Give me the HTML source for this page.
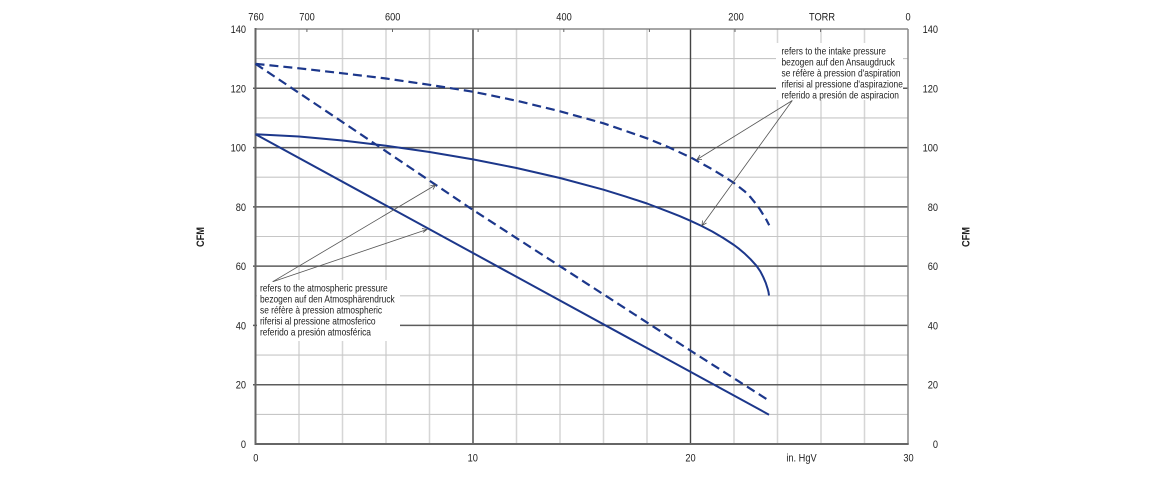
<!DOCTYPE html>
<html>
<head>
<meta charset="utf-8">
<style>
  html,body{margin:0;padding:0;background:#fff;}
  svg{display:block;}
  text{font-family:"Liberation Sans",Arial,sans-serif;fill:#222;}
</style>
</head>
<body>
<svg width="1160" height="480" viewBox="0 0 1160 480" xmlns="http://www.w3.org/2000/svg">
  <rect x="0" y="0" width="1160" height="480" fill="#fff"/>

  <!-- minor vertical gridlines -->
  <g stroke="#d6d6d6" stroke-width="1.5">
    <line x1="299" y1="29" x2="299" y2="444"/>
    <line x1="342.5" y1="29" x2="342.5" y2="444"/>
    <line x1="386" y1="29" x2="386" y2="444"/>
    <line x1="429.5" y1="29" x2="429.5" y2="444"/>
    <line x1="516.5" y1="29" x2="516.5" y2="444"/>
    <line x1="560" y1="29" x2="560" y2="444"/>
    <line x1="603.5" y1="29" x2="603.5" y2="444"/>
    <line x1="647" y1="29" x2="647" y2="444"/>
    <line x1="734" y1="29" x2="734" y2="444"/>
    <line x1="777.5" y1="29" x2="777.5" y2="444"/>
    <line x1="821" y1="29" x2="821" y2="444"/>
    <line x1="864.5" y1="29" x2="864.5" y2="444"/>
  </g>
  <!-- minor horizontal gridlines -->
  <g stroke="#c6c6c6" stroke-width="1.1">
    <line x1="255.5" y1="414.4" x2="908" y2="414.4"/>
    <line x1="255.5" y1="355.1" x2="908" y2="355.1"/>
    <line x1="255.5" y1="295.8" x2="908" y2="295.8"/>
    <line x1="255.5" y1="236.5" x2="908" y2="236.5"/>
    <line x1="255.5" y1="177.2" x2="908" y2="177.2"/>
    <line x1="255.5" y1="117.9" x2="908" y2="117.9"/>
    <line x1="255.5" y1="58.6" x2="908" y2="58.6"/>
  </g>
  <!-- major horizontal gridlines -->
  <g stroke="#5c5c5c" stroke-width="1.5">
    <line x1="253" y1="384.7" x2="908" y2="384.7"/>
    <line x1="253" y1="325.4" x2="908" y2="325.4"/>
    <line x1="253" y1="266.1" x2="908" y2="266.1"/>
    <line x1="253" y1="206.9" x2="908" y2="206.9"/>
    <line x1="253" y1="147.6" x2="908" y2="147.6"/>
    <line x1="253" y1="88.3" x2="908" y2="88.3"/>
  </g>
  <!-- major vertical gridlines -->
  <g stroke="#444" stroke-width="1.4">
    <line x1="473" y1="29" x2="473" y2="444"/>
    <line x1="690.5" y1="29" x2="690.5" y2="444"/>
  </g>

  <!-- annotation boxes -->
  <rect x="257" y="280" width="143" height="61" fill="#fff"/>
  <rect x="776" y="43" width="127" height="57" fill="#fff"/>

  <!-- borders -->
  <line x1="255.5" y1="29" x2="908" y2="29" stroke="#888" stroke-width="1.5"/>
  <line x1="908" y1="29" x2="908" y2="444" stroke="#888" stroke-width="1.5"/>
  <line x1="255.5" y1="28" x2="255.5" y2="445" stroke="#666" stroke-width="2"/>
  <line x1="254.5" y1="444" x2="908.7" y2="444" stroke="#666" stroke-width="2"/>

  <!-- top torr ticks -->
  <g stroke="#666" stroke-width="1">
    <line x1="306.9" y1="29" x2="306.9" y2="32"/>
    <line x1="392.5" y1="29" x2="392.5" y2="32"/>
    <line x1="478.1" y1="29" x2="478.1" y2="32"/>
    <line x1="563.8" y1="29" x2="563.8" y2="32"/>
    <line x1="649.4" y1="29" x2="649.4" y2="32"/>
    <line x1="735" y1="29" x2="735" y2="32"/>
    <line x1="820.6" y1="29" x2="820.6" y2="32"/>
  </g>

  <!-- curves -->
  <g fill="none" stroke="#1c378b" stroke-linejoin="round" stroke-linecap="butt">
    <polyline stroke-width="2" points="255.5,134.2 769,414.7"/>
    <polyline stroke-width="2.2" stroke-dasharray="9 5" points="255.5,63.8 366.7,138.3 470,208 690.3,350.5 768.5,400.3"/>
    <polyline stroke-width="2" points="255.5,134.2 299,136.5 342.5,140.5 386,145.7 429.5,152 473,159.4 516.5,168 560,178 603.5,189.7 625.3,196.4 647,203.5 668.75,211.8 679.6,216.1 690.5,220.8 701.4,225.9 712.25,231.5 723.1,237.9 734,245 739.4,249.1 744.9,253.8 750.5,259.2 756.5,265.8 760.3,271.3 763.3,277.2 765.8,283 767.5,288.3 768.5,292 769,295.5"/>
    <polyline stroke-width="2.2" stroke-dasharray="9 5" points="255.5,63.8 299,68.3 342.5,73.3 386,78.5 429.5,84.8 473,91.7 516.5,100.7 560,111.3 603.5,123.3 647,138.3 668.75,147.3 690.5,157.3 712.25,169.3 723.1,175.9 734,183 744.9,191.5 750.5,197.2 755.75,203.6 760,209.5 763.4,215 766.5,220 769.2,225.3"/>
  </g>

  <!-- leader lines -->
  <g stroke="#555" stroke-width="0.8" fill="none">
    <line x1="272.7" y1="281.7" x2="435.5" y2="185"/>
    <line x1="272.7" y1="281.7" x2="427" y2="229.5"/>
    <line x1="792.3" y1="100.5" x2="697" y2="159.5"/>
    <line x1="792.3" y1="100.5" x2="702" y2="225.5"/>
    <polyline points="430.5,185.5 435.5,185 433,189.5"/>
    <polyline points="422,228.5 427,229.5 423,232.5"/>
    <polyline points="700,155 697,159.5 702,159.5"/>
    <polyline points="702.5,220.5 702,225.5 706.5,223"/>
  </g>

  <!-- annotation text -->
  <g font-size="10">
    <text transform="translate(260 291.6) scale(0.84 1)">refers to the atmospheric pressure</text>
    <text transform="translate(260 302.6) scale(0.84 1)">bezogen auf den Atmosphärendruck</text>
    <text transform="translate(260 313.7) scale(0.84 1)">se réfère à pression atmospheric</text>
    <text transform="translate(260 324.6) scale(0.84 1)">riferisi al pressione atmosferico</text>
    <text transform="translate(260 335.7) scale(0.84 1)">referido a presión atmosférica</text>

    <text transform="translate(781.5 54.5) scale(0.84 1)">refers to the intake pressure</text>
    <text transform="translate(781.5 65.5) scale(0.84 1)">bezogen auf den Ansaugdruck</text>
    <text transform="translate(781.5 76.5) scale(0.84 1)">se réfère à pression d'aspiration</text>
    <text transform="translate(781.5 87.4) scale(0.84 1)">riferisi al pressione d'aspirazione</text>
    <text transform="translate(781.5 98.3) scale(0.84 1)">referido a presión de aspiracion</text>
  </g>

  <!-- left y labels -->
  <g font-size="11" text-anchor="end">
    <text transform="translate(246 33) scale(0.84 1)">140</text>
    <text transform="translate(246 92.3) scale(0.84 1)">120</text>
    <text transform="translate(246 151.6) scale(0.84 1)">100</text>
    <text transform="translate(246 210.9) scale(0.84 1)">80</text>
    <text transform="translate(246 270.1) scale(0.84 1)">60</text>
    <text transform="translate(246 329.4) scale(0.84 1)">40</text>
    <text transform="translate(246 388.7) scale(0.84 1)">20</text>
    <text transform="translate(246 448) scale(0.84 1)">0</text>
  </g>
  <!-- right y labels -->
  <g font-size="11" text-anchor="end">
    <text transform="translate(938 33) scale(0.84 1)">140</text>
    <text transform="translate(938 92.3) scale(0.84 1)">120</text>
    <text transform="translate(938 151.6) scale(0.84 1)">100</text>
    <text transform="translate(938 210.9) scale(0.84 1)">80</text>
    <text transform="translate(938 270.1) scale(0.84 1)">60</text>
    <text transform="translate(938 329.4) scale(0.84 1)">40</text>
    <text transform="translate(938 388.7) scale(0.84 1)">20</text>
    <text transform="translate(938 448) scale(0.84 1)">0</text>
  </g>
  <!-- top labels -->
  <g font-size="11" text-anchor="middle">
    <text transform="translate(256 20.7) scale(0.84 1)">760</text>
    <text transform="translate(307 20.7) scale(0.84 1)">700</text>
    <text transform="translate(392.7 20.7) scale(0.84 1)">600</text>
    <text transform="translate(564 20.7) scale(0.84 1)">400</text>
    <text transform="translate(736 20.7) scale(0.84 1)">200</text>
    <text transform="translate(822 20.7) scale(0.84 1)">TORR</text>
    <text transform="translate(908 20.7) scale(0.84 1)">0</text>
  </g>
  <!-- bottom labels -->
  <g font-size="11" text-anchor="middle">
    <text transform="translate(255.8 461.3) scale(0.84 1)">0</text>
    <text transform="translate(472.8 461.3) scale(0.84 1)">10</text>
    <text transform="translate(690.5 461.3) scale(0.84 1)">20</text>
    <text transform="translate(801.5 461.3) scale(0.84 1)">in. HgV</text>
    <text transform="translate(908.5 461.3) scale(0.84 1)">30</text>
  </g>
  <!-- CFM axis titles -->
  <g font-size="11" font-weight="bold" text-anchor="middle">
    <text transform="translate(204 237) rotate(-90) scale(0.84 1)">CFM</text>
    <text transform="translate(969.3 237) rotate(-90) scale(0.84 1)">CFM</text>
  </g>
</svg>
</body>
</html>
